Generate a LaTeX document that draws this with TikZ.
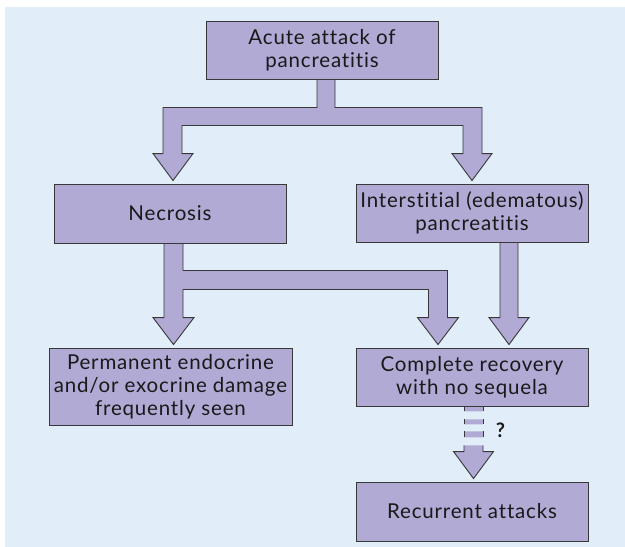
\documentclass[tikz,border=0pt]{standalone}
\usepackage{fontspec}
\setmainfont[LetterSpace=4,Ligatures=NoCommon]{Lato}
\usetikzlibrary{calc,backgrounds}
\definecolor{panel}{HTML}{E1EEF9}
\definecolor{boxfill}{HTML}{B0AAD5}
\definecolor{edge}{HTML}{383838}
\begin{document}
\begin{tikzpicture}[x=1pt,y=-1pt,
  box/.style={draw=edge, fill=boxfill, line width=0.9pt,
    minimum width=232pt, minimum height=58pt, align=center, inner sep=1pt,
    font=\fontsize{20.5}{23}\selectfont, text=black!90},
  fat/.style={draw=edge, fill=boxfill, line width=0.9pt, line join=miter},
  piece/.style={fill=boxfill},
  rim/.style={draw=edge, line width=0.9pt}]
\useasboundingbox (0,0) rectangle (625,547);

% boxes
\node[box] (top) at (322,50) {Acute attack of\\pancreatitis};
\node[box, minimum height=59pt] (nec) at (170,213.5) {Necrosis};
\node[box] (inter) at (472,213) {Interstitial (edematous)\\pancreatitis};
\node[box, minimum width=243pt, minimum height=77pt] (perm) at (170.5,386.5)
  {Permanent endocrine\\and/or exocrine damage\\frequently seen};
\node[box] (comp) at (472,377) {Complete recovery\\with no sequela};
\node[box, minimum height=59pt] (rec) at (472,511.5) {Recurrent attacks};
\node[font=\fontsize{20}{20}\bfseries\selectfont, text=black!90] (q) at (500.5,430) {?};

\begin{scope}[on background layer]
  \fill[white] (0,0) rectangle (625,547);
  \fill[panel] (5,7) rectangle (625,547);

  % acute attack splits into the two forms
  \path[fat] let \p1=(top.south), \p2=(nec.north), \p3=(inter.north) in
    (\x1-5pt,\y1) -- (\x1-5pt,\y1-28pt) -- (\x2-7pt,\y1-28pt)
    -- (\x2-7pt,\y2+30pt) -- (\x2-17pt,\y2+30pt) -- (\x2+3pt,\y2+3pt)
    -- (\x2+23pt,\y2+30pt) -- (\x2+12pt,\y2+30pt) -- (\x2+12pt,\y1-46pt)
    -- (\x3-9pt,\y1-46pt) -- (\x3-9pt,\y3+30pt) -- (\x3-20pt,\y3+30pt)
    -- (\x3,\y3+3pt) -- (\x3+20pt,\y3+30pt) -- (\x3+10pt,\y3+30pt)
    -- (\x3+10pt,\y1-28pt) -- (\x1+13pt,\y1-28pt) -- (\x1+13pt,\y1);

  % necrosis leads to damage or to recovery
  \path[fat] let \p1=(nec.south), \p2=(perm.north), \p3=(comp.north) in
    (\x1-6pt,\y1) -- (\x1-6pt,\y2+30pt) -- (\x1-17pt,\y2+30pt)
    -- (\x1+3.5pt,\y2+3pt) -- (\x1+24pt,\y2+30pt) -- (\x1+13pt,\y2+30pt)
    -- (\x1+13pt,\y1-46pt) -- (\x3-43.5pt,\y1-46pt) -- (\x3-43.5pt,\y3+30pt)
    -- (\x3-54.5pt,\y3+30pt) -- (\x3-34pt,\y3+3pt) -- (\x3-13.5pt,\y3+30pt)
    -- (\x3-24.5pt,\y3+30pt) -- (\x3-24.5pt,\y1-27pt) -- (\x1+13pt,\y1-27pt)
    -- (\x1+13pt,\y1);

  % interstitial form leads to recovery
  \path[fat] let \p1=(inter.south), \p2=(comp.north) in
    (\x1+28pt,\y1) -- (\x1+28pt,\y2+30pt) -- (\x1+17pt,\y2+30pt)
    -- (\x1+37pt,\y2+3pt) -- (\x1+57pt,\y2+30pt) -- (\x1+46pt,\y2+30pt)
    -- (\x1+46pt,\y1);

  % uncertain link from recovery to recurrent attacks
  \fill[piece] let \p1=(comp.south) in
    (\x1-8pt,\y1) rectangle (\x1+11pt,\y1-5pt)
    (\x1-8pt,\y1-13pt) rectangle (\x1+11pt,\y1-18pt)
    (\x1-8pt,\y1-25pt) rectangle (\x1+11pt,\y1-31pt);
  \draw[rim] let \p1=(comp.south) in
    (\x1-8pt,\y1) -- (\x1-8pt,\y1-5pt) (\x1+11pt,\y1) -- (\x1+11pt,\y1-5pt)
    (\x1-8pt,\y1-13pt) -- (\x1-8pt,\y1-18pt) (\x1+11pt,\y1-13pt) -- (\x1+11pt,\y1-18pt)
    (\x1-8pt,\y1-25pt) -- (\x1-8pt,\y1-31pt) (\x1+11pt,\y1-25pt) -- (\x1+11pt,\y1-31pt);
  \path[fat] let \p1=(comp.south), \p2=(rec.north) in
    (\x1-8pt,\y1-39pt) -- (\x1-8pt,\y2+30pt) -- (\x1-18.5pt,\y2+30pt)
    -- (\x1+1.5pt,\y2+3pt) -- (\x1+21.5pt,\y2+30pt) -- (\x1+11pt,\y2+30pt)
    -- (\x1+11pt,\y1-39pt);
\end{scope}
\end{tikzpicture}
\end{document}
